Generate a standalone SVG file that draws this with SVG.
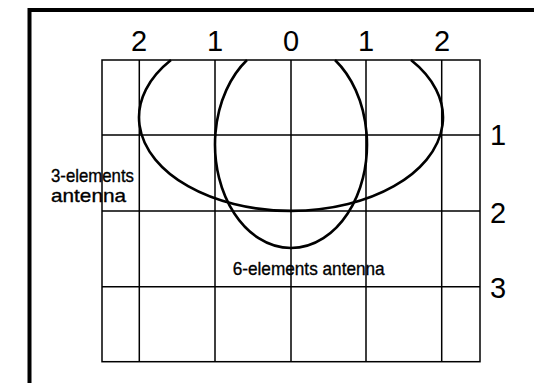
<svg xmlns="http://www.w3.org/2000/svg" width="535" height="383" viewBox="0 0 535 383">
<style>
.grid{stroke:#000;stroke-width:1.5;fill:none}
.lobe{stroke:#000;stroke-width:2.6;fill:none}
.num{font-family:"Liberation Sans",Arial,sans-serif;font-size:29px;fill:#000;text-anchor:middle}
.lbl{font-family:"Liberation Sans Narrow","Liberation Sans",Arial,sans-serif;font-size:19px;fill:#000;stroke:#000;stroke-width:0.35}
</style>
<rect width="535" height="383" fill="#fff"/>
<path d="M29.5,383 V10 H534" stroke="#000" stroke-width="4" fill="none"/>
<g id="grid" class="grid">
<rect x="102" y="60" width="378" height="301.7"/>
<path d="M139.3,60 V361.7 M215,60 V361.7 M291,60 V361.7 M366,60 V361.7 M441.7,60 V361.7 M102,135 H480 M102,211 H480 M102,286.7 H480"/>
</g>
<g id="axis-labels">
<text class="num" x="139" y="51">2</text>
<text class="num" x="215" y="51">1</text>
<text class="num" x="291" y="51">0</text>
<text class="num" x="366" y="51">1</text>
<text class="num" x="442" y="51">2</text>
<text class="num" x="498" y="145">1</text>
<text class="num" x="498" y="222.5">2</text>
<text class="num" x="498" y="298">3</text>
</g>
<g id="connectors">
<path id="lobe-3" class="lobe" d="M171,60 A152,93.5 0 1 0 411,60"/>
<path id="lobe-6" class="lobe" d="M247,60 A76,103.6 0 1 0 335,60"/>
</g>
<g id="label-3">
<text class="lbl" x="51" y="181.5" textLength="83" lengthAdjust="spacingAndGlyphs">3-elements</text>
<text class="lbl" x="51" y="202" textLength="75" lengthAdjust="spacingAndGlyphs">antenna</text>
</g>
<g id="label-6">
<text class="lbl" x="232.7" y="275" textLength="152" lengthAdjust="spacingAndGlyphs">6-elements antenna</text>
</g>
</svg>
